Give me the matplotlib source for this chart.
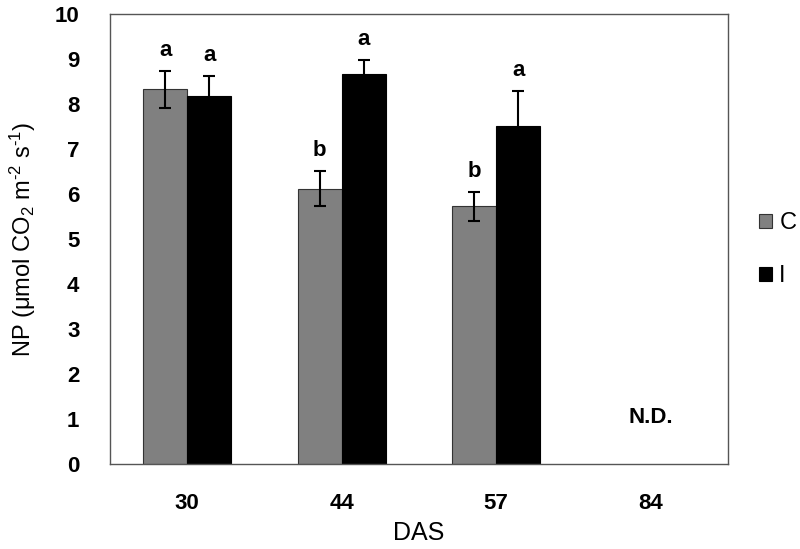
import matplotlib
matplotlib.use("Agg")
import matplotlib.pyplot as plt
import numpy as np

plt.rcParams["font.family"] = ["Liberation Sans", "DejaVu Sans"]
plt.rcParams["mathtext.fontset"] = "custom"
plt.rcParams["mathtext.rm"] = "Liberation Sans"
plt.rcParams["mathtext.it"] = "Liberation Sans:italic"

das = ["30", "44", "57", "84"]
c_vals = [8.33, 6.12, 5.73, 0]
c_err = [0.41, 0.39, 0.32, 0]
i_vals = [8.18, 8.67, 7.52, 0]
i_err = [0.44, 0.31, 0.77, 0]
c_letters = ["a", "b", "b", ""]
i_letters = ["a", "a", "a", ""]

x = np.arange(len(das))
w = 0.285

fig = plt.figure(figsize=(8, 5.49), dpi=100)
ax = fig.add_axes([0.1375, 0.1548, 0.7725, 0.8197])

n = 3  # last group has no data (N.D.)
ax.bar(x[:n] - w / 2, c_vals[:n], w, color="#808080", edgecolor="#333333", linewidth=0.8, label="C")
ax.bar(x[:n] + w / 2, i_vals[:n], w, color="black", edgecolor="black", linewidth=0.8, label="I")
ax.errorbar(x[:n] - w / 2, c_vals[:n], yerr=c_err[:n], fmt="none", ecolor="black", elinewidth=1.5, capsize=4, capthick=1.5)
ax.errorbar(x[:n] + w / 2, i_vals[:n], yerr=i_err[:n], fmt="none", ecolor="black", elinewidth=1.5, capsize=4, capthick=1.5)

for k in range(n):
    ax.text(x[k] - w / 2, c_vals[k] + c_err[k] + 0.22, c_letters[k], ha="center", va="bottom",
            fontsize=16, fontweight="bold")
    ax.text(x[k] + w / 2, i_vals[k] + i_err[k] + 0.22, i_letters[k], ha="center", va="bottom",
            fontsize=16, fontweight="bold")

ax.text(x[3], 1.04, "N.D.", ha="center", va="center", fontsize=16, fontweight="bold")

ax.set_xlim(-0.5, 3.5)
ax.set_ylim(0, 10)
ax.set_xticks(x)
ax.set_xticklabels(das, fontsize=16, fontweight="bold")
ax.set_yticks(range(0, 11))
ax.set_yticklabels([str(v) for v in range(0, 11)], fontsize=16, fontweight="bold")
ax.tick_params(length=0)
ax.tick_params(axis="x", pad=21)
ax.tick_params(axis="y", pad=22)
for s in ax.spines.values():
    s.set_color("#555555")
    s.set_linewidth(1.0)

ax.set_xlabel("DAS", fontsize=18, labelpad=5)
ax.set_ylabel("NP (\u03bcmol CO$_2$ m$^{\\text{-2}}$ s$^{\\text{-1}}$)", fontsize=17, labelpad=12)

fig.legend(loc="center left", bbox_to_anchor=(0.949, 0.545), frameon=False, fontsize=17,
           borderpad=0, borderaxespad=0,
           handlelength=0.55, handleheight=0.55, handletextpad=0.3, labelspacing=1.3)

fig.savefig("out.png", dpi=100)
